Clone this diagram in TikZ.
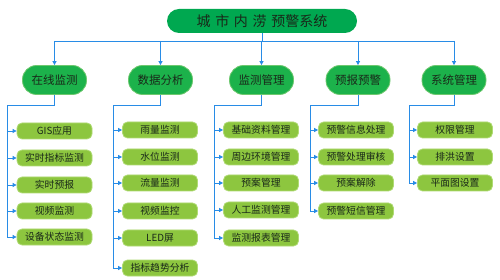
\documentclass[tikz,border=0pt]{standalone}
\usepackage{fontspec}
\setmainfont{Noto Sans CJK SC}
\usetikzlibrary{arrows.meta,positioning}
\definecolor{titlegreen}{RGB}{0,168,80}
\definecolor{topgreen}{RGB}{28,178,75}
\definecolor{topborder}{RGB}{110,200,110}
\definecolor{subgreen}{RGB}{141,198,63}
\definecolor{subborder}{RGB}{175,218,115}
\definecolor{linkblue}{RGB}{40,140,230}
\definecolor{txt}{RGB}{25,40,25}
\tikzset{
  titlebox/.style={fill=titlegreen,draw=none,rounded corners=12pt,minimum width=190pt,minimum height=24pt,inner sep=0pt,text=txt,font=\fontsize{14}{16}\selectfont},
  topbox/.style={fill=topgreen,draw=topborder,line width=0.8pt,rounded corners=14pt,minimum width=64pt,minimum height=29pt,inner sep=0pt,text=txt,font=\fontsize{11.5}{13}\selectfont},
  subbox/.style={fill=subgreen,draw=subborder,line width=0.8pt,rounded corners=5pt,minimum width=75pt,minimum height=16pt,inner sep=0pt,text=txt,font=\fontsize{9.8}{11}\selectfont},
  link/.style={draw=linkblue,line width=0.8pt},
  arr/.style={link,-{Triangle[length=4pt,width=4pt]}}
}
\begin{document}
\begin{tikzpicture}[x=1pt,y=-1pt]
\useasboundingbox[fill=white] (0,0) rectangle (500,280);
\node[titlebox] (title) at (262,21) {城\,\,市\,\,内\,\,涝\,\,预警系统};
\node[topbox] (t1) at (54.5,80) {在线监测};
\node[topbox] (t2) at (160.5,80) {数据分析};
\node[topbox] (t3) at (261.5,80) {监测管理};
\node[topbox] (t4) at (358,80) {预报预警};
\node[topbox] (t5) at (454,80) {系统管理};
% top bus
\coordinate (bus) at (262,41);
\draw[link] (title.south) -- (bus);
\draw[link] (t1.north |- bus) -- (t5.north |- bus);
\foreach \t in {t1,t2,t3,t4,t5}{\draw[arr] (\t.north |- bus) -- (\t.north);}
% column 1
\node[subbox] (a1) at (54.5,131) {GIS应用};
\node[subbox] (a2) at (54.5,158) {实时指标监测};
\node[subbox] (a3) at (54.5,185) {实时预报};
\node[subbox] (a4) at (54.5,211) {视频监测};
\node[subbox] (a5) at (54.5,237) {设备状态监测};
\coordinate (s1) at (7,105);
\draw[link] (t1.south) |- (s1) -- (s1 |- a5.west);
\foreach \n in {a1,a2,a3,a4,a5}{\draw[arr] (s1 |- \n.west) -- (\n.west);}
% column 2
\node[subbox] (b1) at (160,130) {雨量监测};
\node[subbox] (b2) at (160,157) {水位监测};
\node[subbox] (b3) at (160,183) {流量监测};
\node[subbox] (b4) at (160,211) {视频监控};
\node[subbox] (b5) at (160,238) {LED屏};
\node[subbox] (b6) at (160,268) {指标趋势分析};
\coordinate (s2) at (113,105);
\draw[link] (t2.south) |- (s2) -- (s2 |- b6.west);
\foreach \n in {b1,b2,b3,b4,b5,b6}{\draw[arr] (s2 |- \n.west) -- (\n.west);}
% column 3
\node[subbox] (c1) at (261,130) {基础资料管理};
\node[subbox] (c2) at (261,157) {周边环境管理};
\node[subbox] (c3) at (261,183) {预案管理};
\node[subbox] (c4) at (261,210) {人工监测管理};
\node[subbox] (c5) at (261,238) {监测报表管理};
\coordinate (s3) at (214,105);
\draw[link] (t3.south) |- (s3) -- (s3 |- c5.west);
\foreach \n in {c1,c2,c3,c4,c5}{\draw[arr] (s3 |- \n.west) -- (\n.west);}
% column 4
\node[subbox] (d1) at (356,130) {预警信息处理};
\node[subbox] (d2) at (356,157) {预警处理审核};
\node[subbox] (d3) at (356,183) {预案解除};
\node[subbox] (d4) at (356,211) {预警短信管理};
\coordinate (s4) at (310,105);
\draw[link] (t4.south) |- (s4) -- (s4 |- d4.west);
\foreach \n in {d1,d2,d3,d4}{\draw[arr] (s4 |- \n.west) -- (\n.west);}
% column 5
\node[subbox] (e1) at (455,130) {权限管理};
\node[subbox] (e2) at (455,157) {排洪设置};
\node[subbox] (e3) at (455,183) {平面图设置};
\coordinate (s5) at (409,105);
\draw[link] (t5.south) |- (s5) -- (s5 |- e3.west);
\foreach \n in {e1,e2,e3}{\draw[arr] (s5 |- \n.west) -- (\n.west);}
\end{tikzpicture}
\end{document}
